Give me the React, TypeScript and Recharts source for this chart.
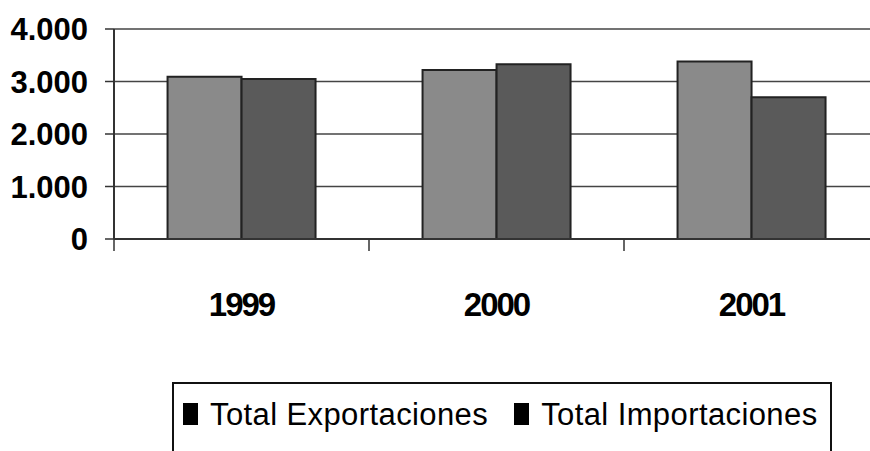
import React from 'react';
import { BarChart, Bar, XAxis, YAxis, CartesianGrid } from 'recharts';

const years = ['1999', '2000', '2001'];
const exportaciones = [3090, 3220, 3380];
const importaciones = [3050, 3330, 2700];
const yTicks = [0, 1000, 2000, 3000, 4000];
const seriesNames = ['Total Exportaciones', 'Total Importaciones'];

const data = years.map((year, i) => ({
  year,
  exp: exportaciones[i],
  imp: importaciones[i],
}));

const formatThousands = (v: number) =>
  String(v).replace(/\B(?=(\d{3})+(?!\d))/g, '.');

// year label + tick marks on the category boundaries (Excel style)
const YearTick = (props: any) => {
  const { x, y, payload, index, visibleTicksCount } = props;
  const half = payload.offset || 0;
  const isLast = index === visibleTicksCount - 1;
  return (
    <g>
      <line x1={x - half} x2={x - half} y1={y} y2={y + 12} stroke="#333" strokeWidth={1.5} />
      {isLast && <line x1={x + half} x2={x + half} y1={y} y2={y + 12} stroke="#333" strokeWidth={1.5} />}
      <text
        x={x}
        y={y + 77}
        textAnchor="middle"
        fill="#000"
        fontSize={33}
        fontWeight="bold"
        letterSpacing={-2}
        fontFamily='"Liberation Sans", Arial, sans-serif'
      >
        {payload.value}
      </text>
    </g>
  );
};

function LegendBox() {
  return (
    <div
      style={{
        position: 'absolute',
        left: 172,
        top: 382,
        width: 660,
        height: 100,
        border: '2px solid #111',
        boxSizing: 'border-box',
        display: 'flex',
        alignItems: 'flex-start',
        paddingLeft: 9,
        paddingTop: 15,
        fontFamily: '"Liberation Sans", Arial, sans-serif',
        fontSize: 31,
        lineHeight: '31px',
        color: '#000',
      }}
    >
      {seriesNames.map((name, i) => (
        <div key={name} style={{ display: 'flex', alignItems: 'flex-start', marginLeft: i ? 26 : 0 }}>
          <span style={{ display: 'inline-block', width: 15, height: 22, background: '#000', marginTop: 4, marginRight: 12 }} />
          <span style={{ letterSpacing: 0.4 }}>{name}</span>
        </div>
      ))}
    </div>
  );
}

export default function App() {
  return (
    <div style={{ position: 'absolute', left: 0, top: 0, width: 870, height: 451, overflow: 'hidden', background: '#fff' }}>
      <BarChart
        width={880}
        height={451}
        data={data}
        margin={{ top: 29, right: 1, left: 0, bottom: 0 }}
        barGap={0}
        barCategoryGap="21%"
      >
        <CartesianGrid vertical={false} stroke="#444" strokeWidth={1.5} />
        <XAxis
          dataKey="year"
          height={212}
          axisLine={{ stroke: '#333', strokeWidth: 2 }}
          tickLine={false}
          tickSize={0}
          tickMargin={0}
          interval={0}
          tick={YearTick}
        />
        <YAxis
          width={114}
          domain={[0, 4000]}
          ticks={yTicks}
          interval={0}
          tickFormatter={formatThousands}
          axisLine={{ stroke: '#333', strokeWidth: 2 }}
          tickSize={9}
          tickMargin={17}
          tickLine={{ stroke: '#333', strokeWidth: 1.5 }}
          tick={{ fill: '#000', fontSize: 31, fontWeight: 'bold', fontFamily: '"Liberation Sans", Arial, sans-serif' }}
        />
        <Bar dataKey="exp" name={seriesNames[0]} fill="#8a8a8a" stroke="#222" strokeWidth={2} isAnimationActive={false} />
        <Bar dataKey="imp" name={seriesNames[1]} fill="#5a5a5a" stroke="#222" strokeWidth={2} isAnimationActive={false} />
      </BarChart>
      <LegendBox />
    </div>
  );
}
